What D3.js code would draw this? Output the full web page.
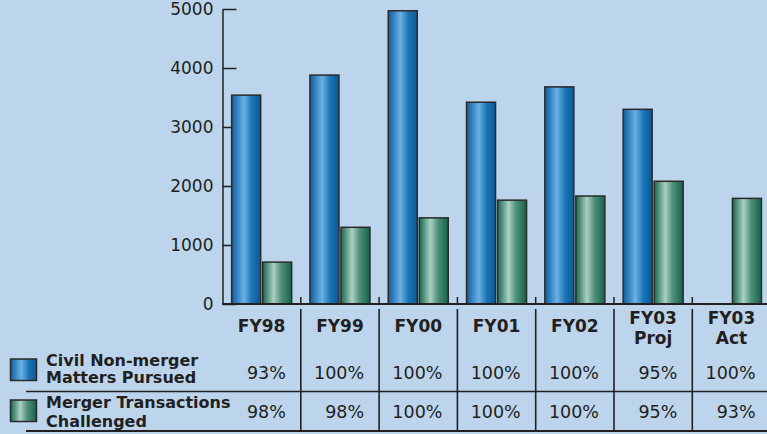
<!DOCTYPE html>
<html>
<head>
<meta charset="utf-8">
<script src="https://cdn.jsdelivr.net/npm/d3@7"></script>
<style>
  body { margin: 0; background: #bcd5ec; }
  svg { display: block; font-family: "DejaVu Sans", Verdana, sans-serif; }
</style>
</head>
<body>
<div id="chart"></div>
<script>
// values
const categories = ["FY98", "FY99", "FY00", "FY01", "FY02", "FY03 Proj", "FY03 Act"]
const civilMatters = [3540, 3880, 4970, 3420, 3680, 3300, 0]
const mergerChallenged = [710, 1300, 1460, 1760, 1830, 2080, 1790]
const civilPct = ["93%", "100%", "100%", "100%", "100%", "95%", "100%"]
const mergerPct = ["98%", "98%", "100%", "100%", "100%", "95%", "93%"]
const seriesNames = [["Civil Non-merger", "Matters Pursued"], ["Merger Transactions", "Challenged"]]
const yTicks = [0, 1000, 2000, 3000, 4000, 5000]

const width = 767, height = 434
const ink = "#231f20"
const x0 = 222.5, step = 78.3

const svg = d3.select("#chart").append("svg")
    .attr("width", width)
    .attr("height", height)

const defs = svg.append("defs")
function grad(id, stops) {
    const g = defs.append("linearGradient").attr("id", id)
        .attr("x1", 0).attr("x2", 1).attr("y1", 0).attr("y2", 0)
    stops.forEach(s => g.append("stop").attr("offset", s[0]).attr("stop-color", s[1]))
}
grad("gBlue", [[0, "#1b5a90"], [0.18, "#2f82c2"], [0.42, "#6cb0e2"], [0.7, "#1a73b6"], [1, "#0b5996"]])
grad("gGreen", [[0, "#1d6651"], [0.15, "#4f907b"], [0.38, "#abd0c2"], [0.65, "#4d8e78"], [1, "#15624c"]])
const fills = ["url(#gBlue)", "url(#gGreen)"]

const x = d3.scaleBand()
    .domain(categories)
    .range([x0, x0 + step * categories.length])
    .paddingInner(0).paddingOuter(0)

const xs = d3.scaleBand()
    .domain([0, 1])
    .range([0, x.bandwidth()])
    .paddingInner(0.0645).paddingOuter(0.295)

const y = d3.scaleLinear().domain([0, 5000]).range([304, 9])

// y axis
const yAxis = svg.append("g")
    .attr("transform", `translate(${x0},0)`)
    .call(d3.axisLeft(y).tickValues(yTicks).tickSize(-14).tickSizeOuter(0).tickPadding(9).tickFormat(d3.format("d")))
yAxis.attr("font-family", null)
yAxis.selectAll("path, line").attr("stroke", ink).attr("stroke-width", 1.5)
yAxis.selectAll("text").attr("fill", ink).attr("font-size", "17px")

// bars
const rows = categories.map((c, i) => ({ cat: c, vals: [civilMatters[i], mergerChallenged[i]] }))
const groups = svg.append("g").selectAll("g")
    .data(rows)
    .join("g")
    .attr("transform", d => `translate(${x(d.cat)},0)`)

groups.selectAll("rect")
    .data(d => d.vals)
    .join("rect")
    .attr("x", (d, i) => xs(i))
    .attr("width", xs.bandwidth())
    .attr("y", d => y(d))
    .attr("height", d => y(0) - y(d))
    .attr("fill", (d, i) => fills[i])
    .attr("stroke", "#2a2a2a")
    .attr("stroke-width", 1.5)

// baseline
svg.append("line")
    .attr("x1", x0).attr("x2", width)
    .attr("y1", y(0)).attr("y2", y(0))
    .attr("stroke", ink).attr("stroke-width", 2.2)

// group separators: small tick above baseline, column line in the table
const seps = categories.slice(1).map(c => x(c))
svg.append("g").selectAll("line")
    .data(seps)
    .join("line")
    .attr("x1", d => d).attr("x2", d => d)
    .attr("y1", y(0) - 7).attr("y2", y(0))
    .attr("stroke", ink).attr("stroke-width", 1.5)
svg.append("g").selectAll("line")
    .data(seps)
    .join("line")
    .attr("x1", d => d).attr("x2", d => d)
    .attr("y1", 309).attr("y2", 431)
    .attr("stroke", ink).attr("stroke-width", 1.6)

// table rules
svg.append("line").attr("x1", 26).attr("x2", width).attr("y1", 391.5).attr("y2", 391.5)
    .attr("stroke", ink).attr("stroke-width", 1.6)
svg.append("line").attr("x1", 26).attr("x2", width).attr("y1", 431).attr("y2", 431)
    .attr("stroke", ink).attr("stroke-width", 2)

// category labels
svg.append("g").selectAll("text")
    .data(categories)
    .join("text")
    .attr("x", d => x(d) + x.bandwidth() / 2)
    .attr("y", d => d.includes(" ") ? 323.5 : 331.5)
    .attr("text-anchor", "middle")
    .attr("font-weight", "bold")
    .attr("font-size", "17px")
    .attr("fill", ink)
    .each(function (d) {
        const parts = d.split(" ")
        d3.select(this).selectAll("tspan")
            .data(parts)
            .join("tspan")
            .attr("x", x(d) + x.bandwidth() / 2)
            .attr("dy", (p, i) => i ? 20.5 : 0)
            .text(p => p)
    })

// percentages
;[[civilPct, 379], [mergerPct, 418]].forEach(([vals, base]) => {
    svg.append("g").selectAll("text")
        .data(vals)
        .join("text")
        .attr("x", (d, i) => x(categories[i]) + x.bandwidth() - 15)
        .attr("y", base)
        .attr("text-anchor", "end")
        .attr("font-size", "17.5px")
        .attr("fill", ink)
        .text(d => d)
})

// legend
const legY = [[359, 366, 383.3], [400, 408.3, 427]]
seriesNames.forEach((name, i) => {
    svg.append("rect")
        .attr("x", 10.5).attr("y", legY[i][0])
        .attr("width", 26).attr("height", 21.5)
        .attr("fill", fills[i])
        .attr("stroke", "#2a2a2a").attr("stroke-width", 1.5)
    svg.append("text")
        .attr("font-weight", "bold")
        .attr("font-size", "16px")
        .attr("fill", ink)
        .selectAll("tspan")
        .data(name)
        .join("tspan")
        .attr("x", 46)
        .attr("y", (d, j) => legY[i][1 + j])
        .text(d => d)
})
</script>
</body>
</html>
